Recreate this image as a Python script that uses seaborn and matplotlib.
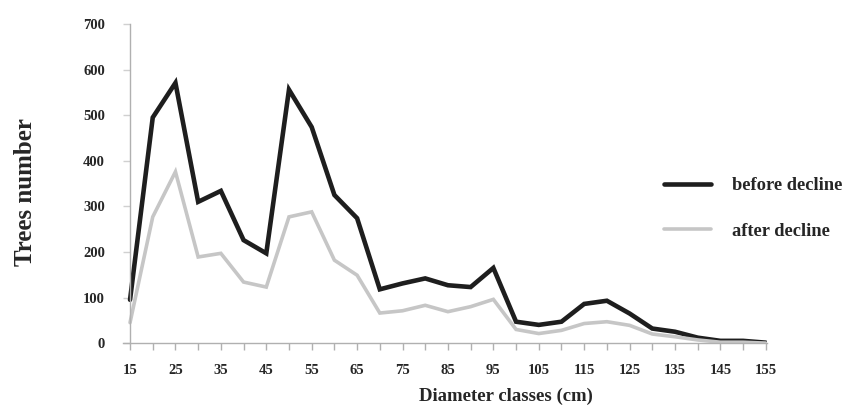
import matplotlib
matplotlib.use("Agg")
import matplotlib.pyplot as plt
import seaborn as sns
import pandas as pd

diameter = [15, 20, 25, 30, 35, 40, 45, 50, 55, 60, 65, 70, 75, 80, 85, 90, 95,
            100, 105, 110, 115, 120, 125, 130, 135, 140, 145, 150, 155]
before_decline = [95, 495, 571, 310, 334, 226, 197, 556, 474, 325, 274, 118, 131, 142,
                  127, 123, 165, 47, 40, 47, 86, 93, 65, 32, 25, 12, 5, 5, 1]
after_decline = [45, 277, 376, 189, 197, 134, 123, 277, 288, 182, 149, 66, 71, 83,
                 69, 80, 96, 30, 21, 28, 43, 47, 39, 20, 14, 7, 2, 2, 0]
series_names = ["before decline", "after decline"]
xtick_labels = [15, 25, 35, 45, 55, 65, 75, 85, 95, 105, 115, 125, 135, 145, 155]
ytick_values = [0, 100, 200, 300, 400, 500, 600, 700]

df = pd.DataFrame({
    "Diameter": diameter * 2,
    "Trees": before_decline + after_decline,
    "Series": [series_names[0]] * len(diameter) + [series_names[1]] * len(diameter),
})

sns.set_theme(style="white")
plt.rcParams["font.family"] = ["Liberation Serif", "DejaVu Serif"]
plt.rcParams["font.weight"] = "bold"

fig = plt.figure(figsize=(8.44, 4.08), dpi=100)
ax = fig.add_axes([0.146, 0.159, 0.763, 0.782])

palette = {series_names[0]: "#1e1e1e", series_names[1]: "#c6c6c6"}
sns.lineplot(data=df, x="Diameter", y="Trees", hue="Series", palette=palette,
             ax=ax, legend=True)
for line, lw in zip(ax.lines, [3.3, 2.6]):
    line.set_linewidth(lw)
    line.set_solid_joinstyle("miter")

ax.set_xlim(13.5, 155.3)
ax.set_ylim(0, 700)
ax.spines["left"].set_position(("data", 15))
for s in ["top", "right"]:
    ax.spines[s].set_visible(False)
for s in ["left", "bottom"]:
    ax.spines[s].set_color("#b0b0b0")
    ax.spines[s].set_linewidth(1.0)

ax.set_xticks(diameter)
ax.set_xticklabels([str(d) if d in xtick_labels else "" for d in diameter],
                   fontsize=10.5, fontweight="bold")
ax.set_yticks(ytick_values)
ax.set_yticklabels([str(v) for v in ytick_values], fontsize=10.5, fontweight="bold")
ax.tick_params(axis="x", direction="out", length=5, width=1, color="#b0b0b0", pad=10,
               bottom=True)
ax.tick_params(axis="y", direction="out", length=5, width=1, color="#d0d0d0", pad=13,
               left=True)

ax.set_xlabel("")
ax.set_ylabel("")
fig.text(0.600, 0.029, "Diameter classes (cm)", ha="center", va="center",
         fontsize=13.5, fontweight="bold")
fig.text(0.030, 0.53, "Trees number", ha="center", va="center", rotation=90,
         fontsize=18, fontweight="bold")

handles, labels = ax.get_legend_handles_labels()
for h, lw in zip(handles, [3.3, 2.6]):
    h.set_linewidth(lw)
leg = ax.legend(handles, labels, loc="upper left",
                bbox_to_anchor=(664 / 844, 1 - 177 / 408),
                bbox_transform=fig.transFigure, frameon=False,
                prop={"family": "Liberation Serif", "weight": "bold", "size": 13.3},
                handlelength=2.55, handletextpad=1.15, labelspacing=1.55,
                borderpad=0, borderaxespad=0)

fig.savefig("out.png", dpi=100)
